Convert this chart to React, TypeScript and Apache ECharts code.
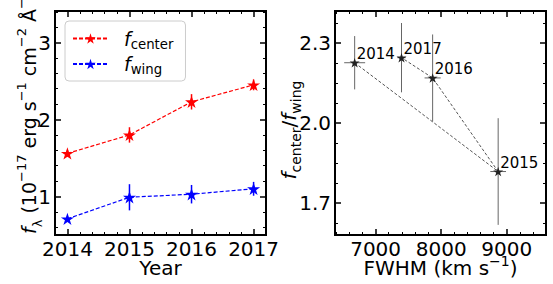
import React, { useEffect, useRef } from 'react';
import * as echarts from 'echarts';

// ---- Left panel data ----
const years = [2014, 2015, 2016, 2017];
const fCenter = [1.56, 1.8, 2.23, 2.45];
const fCenterErr = [0.04, 0.1, 0.1, 0.07];
const fWing = [0.71, 0.99, 1.03, 1.1];
const fWingErr = [0.03, 0.17, 0.12, 0.09];

// ---- Right panel data ----
const pointLabels = ['2014', '2015', '2016', '2017'];
const fwhm = [6680, 8870, 7870, 7395];
const fwhmErr = [160, 120, 123, 64];
const ratio = [2.226, 1.818, 2.169, 2.245];
const ratioErr = [0.1, 0.2, 0.163, 0.13];

// ---- Ticks ----
const yearTicks = [2014, 2015, 2016, 2017];
const yearMinor = [2014.2, 2014.4, 2014.6, 2014.8, 2015.2, 2015.4, 2015.6, 2015.8, 2016.2, 2016.4, 2016.6, 2016.8];
const fluxTicks = [1, 2, 3];
const fluxMinor = [0.6, 0.8, 1.2, 1.4, 1.6, 1.8, 2.2, 2.4, 2.6, 2.8, 3.2, 3.4];
const fwhmTicks = [7000, 8000, 9000];
const fwhmMinor = [6400, 6600, 6800, 7200, 7400, 7600, 7800, 8200, 8400, 8600, 8800, 9200, 9400];
const ratioTicks = [1.7, 2.0, 2.3];
const ratioMinor = [1.625, 1.775, 1.85, 1.925, 2.075, 2.15, 2.225, 2.375];

const FONT = 'DejaVu Sans';
const FS = 20;
const STAR = 'path://M0,-1L0.2245,-0.309L0.9511,-0.309L0.3633,0.118L0.5878,0.809L0,0.382L-0.5878,0.809L-0.3633,0.118L-0.9511,-0.309L-0.2245,-0.309Z';

function axisSet(dir: 'x' | 'y', grid: number, min: number, max: number, major: number[], minor: number[], fmt?: (v: number) => string) {
  const positions = dir === 'x' ? ['bottom', 'top'] : ['left', 'right'];
  const out: any[] = [];
  for (const p of positions) {
    for (const isMajor of [true, false]) {
      out.push({
        type: 'value',
        gridIndex: grid,
        min,
        max,
        position: p,
        axisLine: { show: true, onZero: false, lineStyle: { color: '#000', width: 2 } },
        axisTick: {
          show: true,
          inside: true,
          length: isMajor ? 6 : 3,
          customValues: isMajor ? major : minor,
          lineStyle: { color: '#000', width: isMajor ? 1.5 : 1 },
        },
        axisLabel: {
          show: isMajor && p === positions[0],
          customValues: major,
          margin: 4,
          fontSize: FS,
          color: '#000',
          fontFamily: FONT,
          formatter: fmt ? (v: number) => fmt(v) : (v: number) => String(v),
        },
        splitLine: { show: false },
        minorTick: { show: false },
      });
    }
  }
  return out;
}

function errSeries(name: string, xIdx: number, yIdx: number, data: number[][], color: string, width: number, z: number) {
  return {
    type: 'custom',
    name,
    xAxisIndex: xIdx,
    yAxisIndex: yIdx,
    z,
    silent: true,
    clip: false,
    data,
    encode: { x: 0, y: 1 },
    renderItem: (_params: any, api: any) => {
      const x = api.value(0);
      const y = api.value(1);
      const ye = api.value(2);
      const xe = api.value(3);
      const a = api.coord([x, y - ye]);
      const b = api.coord([x, y + ye]);
      const children: any[] = [
        { type: 'line', shape: { x1: a[0], y1: a[1], x2: b[0], y2: b[1] }, style: { stroke: color, lineWidth: width } },
      ];
      if (xe) {
        const c = api.coord([x - xe, y]);
        const d = api.coord([x + xe, y]);
        children.push({ type: 'line', shape: { x1: c[0], y1: c[1], x2: d[0], y2: d[1] }, style: { stroke: color, lineWidth: width } });
      }
      return { type: 'group', children };
    },
  };
}

export default function App() {
  const ref = useRef<HTMLDivElement>(null);
  useEffect(() => {
    if (!ref.current) return;
    const chart = echarts.init(ref.current, null, { renderer: 'svg' });

    const xAxes = [
      ...axisSet('x', 0, 2013.8, 2017.2, yearTicks, yearMinor),
      ...axisSet('x', 1, 6380, 9600, fwhmTicks, fwhmMinor),
    ];
    const yAxes = [
      ...axisSet('y', 0, 0.5, 3.41, fluxTicks, fluxMinor),
      ...axisSet('y', 1, 1.58, 2.42, ratioTicks, ratioMinor, (v) => v.toFixed(1)),
    ];

    const richLegend = {
      f: { fontStyle: 'italic', fontSize: 19, lineHeight: 24, fontFamily: FONT, color: '#000', padding: [0, 0, 0, 11] },
      s: { fontSize: 13.3, lineHeight: 12, verticalAlign: 'bottom', fontFamily: FONT, color: '#000' },
    };

    const option: any = {
      animation: false,
      backgroundColor: '#fff',
      grid: [
        { left: 55, top: 11, width: 211, height: 224, outerBoundsMode: 'none' },
        { left: 335, top: 11, width: 211, height: 224, outerBoundsMode: 'none' },
      ],
      xAxis: xAxes,
      yAxis: yAxes,
      legend: {
        data: ['center', 'wing'],
        orient: 'vertical',
        left: 65,
        top: 21,
        backgroundColor: '#fff',
        borderColor: '#ccc',
        borderWidth: 1,
        borderRadius: 4,
        padding: [8, 12, 5, 7],
        itemWidth: 35,
        itemHeight: 13,
        itemGap: 4,
        formatter: (name: string) => `{f|f}{s|${name}}`,
        textStyle: { fontFamily: FONT, fontSize: 19, rich: richLegend },
      },
      series: [
        errSeries('centerErr', 0, 0, years.map((y, i) => [y, fCenter[i], fCenterErr[i], 0]), '#ff0000', 1.5, 2),
        errSeries('wingErr', 0, 0, years.map((y, i) => [y, fWing[i], fWingErr[i], 0]), '#0000ff', 1.5, 2),
        {
          type: 'line',
          name: 'center',
          xAxisIndex: 0,
          yAxisIndex: 0,
          data: years.map((y, i) => [y, fCenter[i]]),
          symbol: STAR,
          symbolSize: 13,
          symbolKeepAspect: true,
          lineStyle: { color: '#ff0000', width: 1.2, type: [4, 2] },
          itemStyle: { color: '#ff0000' },
          z: 3,
        },
        {
          type: 'line',
          name: 'wing',
          xAxisIndex: 0,
          yAxisIndex: 0,
          data: years.map((y, i) => [y, fWing[i]]),
          symbol: STAR,
          symbolSize: 13,
          symbolKeepAspect: true,
          lineStyle: { color: '#0000ff', width: 1.2, type: [4, 2] },
          itemStyle: { color: '#0000ff' },
          z: 3,
        },
        errSeries('ratioErr', 4, 4, fwhm.map((x, i) => [x, ratio[i], ratioErr[i], fwhmErr[i]]), '#666666', 1, 2),
        {
          type: 'line',
          name: 'ratio',
          xAxisIndex: 4,
          yAxisIndex: 4,
          data: fwhm.map((x, i) => [x, ratio[i]]),
          symbol: STAR,
          symbolSize: 10,
          symbolKeepAspect: true,
          lineStyle: { color: '#555555', width: 1, type: [3, 2] },
          itemStyle: { color: '#222222' },
          z: 3,
          label: {
            show: true,
            position: [7, -4],
            align: 'left',
            verticalAlign: 'middle',
            fontSize: 15,
            fontFamily: FONT,
            color: '#000',
            formatter: (p: any) => pointLabels[p.dataIndex],
          },
        },
      ],
      graphic: [
        {
          type: 'text',
          x: 160.5,
          y: 268,
          style: { text: 'Year', fontSize: FS, fontFamily: FONT, fill: '#000', textAlign: 'center', align: 'center', textVerticalAlign: 'middle', verticalAlign: 'middle' },
        },
        {
          type: 'text',
          x: 440.5,
          y: 268,
          style: {
            text: '{n|FWHM (km s}{sup|−1}{n|)}',
            fill: '#000',
            textAlign: 'center', align: 'center', textVerticalAlign: 'middle', verticalAlign: 'middle',
            rich: {
              n: { fontSize: FS, fontFamily: FONT, lineHeight: 28, fill: '#000', color: '#000' },
              sup: { fontSize: 14, fontFamily: FONT, lineHeight: 12, verticalAlign: 'top', fill: '#000', color: '#000' },
            },
          },
        },
        {
          type: 'text',
          x: 29,
          y: 234,
          rotation: Math.PI / 2,
          style: {
            text: '{i|f}{sub|λ}{n| (10}{sup|−17}{n| erg s}{sup|−1}{n| cm}{sup|−2}{n| Å}{sup|−1}{n|)}',
            fill: '#000',
            textAlign: 'left', align: 'left', textVerticalAlign: 'middle', verticalAlign: 'middle',
            rich: {
              i: { fontSize: 19, fontStyle: 'italic', fontFamily: FONT, lineHeight: 29, fill: '#000', color: '#000' },
              n: { fontSize: 19, fontFamily: FONT, lineHeight: 29, fill: '#000', color: '#000' },
              sup: { fontSize: 13, fontFamily: FONT, lineHeight: 12, verticalAlign: 'top', fill: '#000', color: '#000' },
              sub: { fontSize: 13, fontFamily: FONT, lineHeight: 12, verticalAlign: 'bottom', fill: '#000', color: '#000' },
            },
          },
        },
        {
          type: 'text',
          x: 289,
          y: 130,
          rotation: Math.PI / 2,
          style: {
            text: '{i|f}{sub|center}{n|/}{i|f}{sub|wing}',
            fill: '#000',
            textAlign: 'center', align: 'center', textVerticalAlign: 'middle', verticalAlign: 'middle',
            rich: {
              i: { fontSize: FS, fontStyle: 'italic', fontFamily: FONT, lineHeight: 28, fill: '#000', color: '#000' },
              n: { fontSize: FS, fontFamily: FONT, lineHeight: 28, fill: '#000', color: '#000' },
              sub: { fontSize: 14, fontFamily: FONT, lineHeight: 12, verticalAlign: 'bottom', fill: '#000', color: '#000' },
            },
          },
        },
      ],
    };

    chart.setOption(option);
    return () => chart.dispose();
  }, []);

  return <div ref={ref} style={{ position: 'absolute', left: 0, top: 0, width: 553, height: 284 }} />;
}
